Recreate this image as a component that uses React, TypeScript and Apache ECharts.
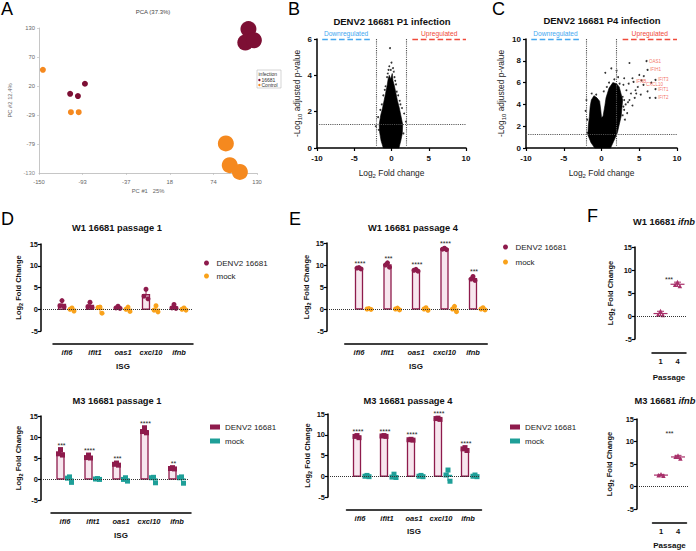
import React, { useEffect, useRef } from "react";
import * as echarts from "echarts";

const FONT = "'Liberation Sans', Arial, Helvetica, sans-serif";
const MAROON = "#8E1B4C";
const PINK = "#F7E6EE";
const MOCK_ORANGE = "#F9A21B";
const MOCK_TEAL = "#1E9F98";
const F_MARK = "#A8306A";
const PCA_RED = "#7D0F34";
const PCA_ORANGE = "#F5891F";
const UP_RED = "#F04A3A";
const DOWN_BLUE = "#45A8F0";

/* ================= DATA ================= */
// A: PCA  [PC1, PC2, passage]
const pcaXTicks = [-150, -94, -38, 18, 74, 130];
const pcaXTickLabels = ["-150", "-93", "-37", "18", "74", "130"];
const pcaYTicks = [-130, -78, -26, 26, 78, 130];
const pcaYTickLabels = ["-130", "-79", "-29", "20", "70", "130"];
const pca16681 = [[-91, 30, 1], [-110, 12, 1], [-100, 8, 1], [119, 128, 4], [115, 104, 4], [126, 108, 4]];
const pcaControl = [[-145, 55, 1], [-109, -21, 1], [-99, -21, 1], [90, -77, 4], [95, -116, 4], [108, -128, 4]];

// B: P1 volcano (outline of the dense core + individual points)
const p1Core = [[-1.1, 0], [-1.4, 0.4], [-1.6, 0.9], [-1.65, 1.3], [-1.45, 1.8], [-1.2, 2.2], [-1.0, 2.6], [-0.8, 3.0], [-0.6, 3.4], [-0.45, 3.8], [-0.3, 4.0], [-0.1, 3.8], [0.1, 4.1], [0.2, 3.7], [0.4, 3.4], [0.6, 3.0], [0.8, 2.6], [1.05, 2.2], [1.3, 1.7], [1.5, 1.3], [1.45, 0.8], [1.25, 0.4], [1.0, 0]];
const p1Points = [[-0.2, 5.5], [0.0, 4.7], [-0.3, 4.5], [0.4, 3.9], [-0.8, 3.4], [0.7, 3.1], [-1.3, 2.4], [1.4, 2.2], [1.95, 1.45], [-1.8, 1.7], [-0.5, 4.1], [0.2, 4.4], [1.1, 2.6], [-1.1, 2.9], [-1.7, 1.0], [1.6, 0.8], [-2.1, 1.2], [0.9, 2.9], [-0.6, 3.9], [1.7, 1.9], [0.3, 4.2], [-0.9, 3.2], [1.2, 2.4], [-1.5, 2.1], [0.6, 3.5], [-0.1, 4.3], [0.5, 3.7], [-0.4, 4.3]];

// C: P4 volcano
const p4Core = [[-0.9, 0], [-1.4, 0.5], [-1.8, 1.2], [-1.75, 2.0], [-1.6, 2.9], [-1.5, 3.8], [-1.35, 4.4], [-1.0, 4.8], [-0.6, 4.6], [-0.25, 4.3], [-0.1, 3.5], [0.0, 2.8], [0.2, 2.9], [0.45, 3.9], [0.6, 4.6], [1.0, 5.5], [1.5, 6.0], [2.0, 5.9], [2.35, 5.6], [2.8, 4.4], [2.6, 2.9], [2.1, 1.4], [1.6, 0.6], [1.2, 0]];
const p4Points = [[3.7, 7.8], [5.0, 6.7], [4.1, 6.4], [5.3, 6.2], [4.8, 5.6], [3.3, 5.3], [3.9, 5.0], [6.1, 5.2], [2.8, 4.7], [3.5, 4.2], [2.6, 4.1], [4.1, 3.9], [3.0, 3.5], [3.0, 6.4], [4.6, 5.0], [3.7, 4.4], [2.8, 3.0], [1.3, 7.3], [2.0, 7.1], [0.5, 6.9], [-2.0, 4.4], [-1.9, 2.6], [-0.7, 4.9], [1.7, 6.3], [2.4, 5.9], [2.9, 3.8], [3.0, 4.4], [4.4, 4.6], [5.2, 4.9], [3.4, 3.2], [2.2, 6.5], [1.0, 6.0], [2.9, 5.8], [5.6, 6.6], [6.6, 6.0], [4.5, 5.3], [3.6, 5.9], [3.2, 4.0], [3.1, 2.6], [-1.3, 5.0], [-2.1, 3.4], [0.3, 5.2], [6.4, 4.6], [-1.9, 1.4], [0.7, 5.6]];
const p4Genes = ["OAS1", "IFIH1", "IFIT3", "IFNB", "CXCL10", "IFIT1", "IFIT2"];
const p4GeneFC = [5.96, 6.1, 7.15, 4.24, 5.56, 7.15, 7.15];
const p4GeneP = [7.98, 7.16, 6.24, 6.06, 5.8, 5.41, 4.59];
const fcCut = 2;
const pCut = 1.3;

// D, E: ISG qPCR (3 replicates each)
const isg = ["ifi6", "ifit1", "oas1", "cxcl10", "ifnb"];
const w1p1Denv = [[2.0, 0.8, 0.6], [1.6, 0.6, 0.4], [0.7, 0.3, 0.2], [4.6, 3.0, 2.4], [1.1, 0.3, 0.2]];
const w1p1Mock = [[0.3, 0.0, -0.4], [0.5, 0.4, -0.9], [0.5, 0.0, -0.5], [0.8, -0.2, -0.6], [0.3, 0.0, -0.2]];
const w1p1Sig = ["", "", "", "", ""];
const m3p1Denv = [[7.0, 6.0, 5.7], [5.7, 5.1, 5.0], [3.8, 3.5, 3.3], [12.2, 11.3, 11.0], [2.7, 2.5, 2.4]];
const m3p1Mock = [[0.5, 0.2, -0.8], [0.1, 0.0, -0.1], [0.3, -0.1, -0.5], [0.4, 0.3, -0.9], [0.5, 0.3, -1.0]];
const m3p1Sig = ["***", "****", "***", "****", "**"];
const w1p4Denv = [[9.4, 9.3, 9.1], [10.5, 10.0, 9.5], [9.0, 8.8, 8.6], [13.8, 13.6, 13.5], [7.4, 6.8, 6.5]];
const w1p4Mock = [[0.1, 0.0, -0.1], [0.2, 0.0, -0.2], [0.3, 0.0, -0.3], [0.6, 0.0, -0.6], [0.3, 0.0, -0.2]];
const w1p4Sig = ["****", "***", "****", "****", "***"];
const m3p4Denv = [[9.8, 9.6, 9.3], [9.8, 9.7, 9.6], [8.9, 8.8, 8.7], [14.0, 13.9, 13.7], [6.9, 6.6, 6.2]];
const m3p4Mock = [[0.2, 0.0, -0.1], [0.5, -0.2, -0.3], [0.2, 0.0, -0.1], [1.5, 0.3, -1.2], [0.3, 0.0, -0.1]];
const m3p4Sig = ["****", "****", "****", "****", "****"];

// F: ifnb by passage (same replicates as ifnb in D / E)
const passages = ["1", "4"];
const w1Ifnb = [w1p1Denv[4], w1p4Denv[4]];
const m3Ifnb = [m3p1Denv[4], m3p4Denv[4]];
const w1IfnbSig = { text: "***", y: 8.0 };
const m3IfnbSig = { text: "***", y: 11.7 };

/* ================= HELPERS ================= */
const mean = (a: number[]) => a.reduce((s, v) => s + v, 0) / a.length;
const sd = (a: number[]) => {
  const m = mean(a);
  return Math.sqrt(a.reduce((s, v) => s + (v - m) * (v - m), 0) / (a.length - 1));
};
const JIT = [0, -2, 2];

function buildOption() {
  const grid: any[] = [];
  const xAxis: any[] = [];
  const yAxis: any[] = [];
  const series: any[] = [];
  const legend: any[] = [];
  const graphic: any[] = [];
  const add = (g: any, x: any, y: any) => {
    const i = grid.length;
    grid.push(g);
    xAxis.push({ ...x, gridIndex: i });
    yAxis.push({ ...y, gridIndex: i });
    return i;
  };

  /* ---------- A: PCA ---------- */
  const pcaTxt = { fontSize: 5.8, color: "#666", fontFamily: FONT };
  const aLine = { onZero: false, lineStyle: { color: "#b8b8b8", width: 0.8 } };
  const a = add(
    { left: 39, top: 28, width: 218, height: 145 },
    {
      type: "value", min: -150, max: 130, axisLine: aLine,
      axisTick: { show: true, length: 2, customValues: pcaXTicks, lineStyle: { color: "#b8b8b8", width: 0.6 } },
      axisLabel: { ...pcaTxt, margin: 6, showMinLabel: true, showMaxLabel: true, customValues: pcaXTicks, formatter: (v: number) => pcaXTickLabels[pcaXTicks.indexOf(v)] ?? "" },
      splitLine: { show: false }, name: "PC #1   25%", nameLocation: "middle", nameGap: 15, nameTextStyle: pcaTxt,
    },
    {
      type: "value", min: -130, max: 130, axisLine: aLine,
      axisTick: { show: true, length: 2, customValues: pcaYTicks, lineStyle: { color: "#b8b8b8", width: 0.6 } },
      axisLabel: {
        ...pcaTxt, margin: 4, showMinLabel: false, showMaxLabel: true, customValues: pcaYTicks,
        formatter: (v: number) => {
          const k = pcaYTicks.findIndex((t) => Math.abs(t - v) < 0.01);
          return k > 0 ? pcaYTickLabels[k] : "";
        },
      },
      splitLine: { show: false }, name: "PC #2 12.4%", nameLocation: "middle", nameGap: 26, nameTextStyle: pcaTxt,
    }
  );
  // the lowest y tick label, placed at its own tick through the axis scale
  series.push({
    type: "scatter", xAxisIndex: a, yAxisIndex: a, silent: true, symbolSize: 0, z: 1,
    data: [{ value: [pcaXTicks[0], pcaYTicks[0]] }],
    label: { show: true, position: "left", distance: 4, formatter: () => pcaYTickLabels[0], ...pcaTxt },
  });
  const pcaSize = (v: number[]) => (v[2] === 4 ? 16 : 6);
  series.push({ type: "scatter", xAxisIndex: a, yAxisIndex: a, data: pca16681, symbolSize: pcaSize, itemStyle: { color: PCA_RED, opacity: 1 } });
  series.push({ type: "scatter", xAxisIndex: a, yAxisIndex: a, data: pcaControl, symbolSize: pcaSize, itemStyle: { color: PCA_ORANGE, opacity: 1 } });

  /* ---------- B, C: volcano ---------- */
  const volLblX = { fontSize: 8, fontWeight: "bold", color: "#111", fontFamily: FONT, margin: 6, showMinLabel: true };
  const volLblY = { fontSize: 8, fontWeight: "bold", color: "#111", fontFamily: FONT, margin: 5, showMinLabel: true };
  const volRich = {
    a: { fontSize: 8.4, fontFamily: FONT, color: "#222", lineHeight: 12, verticalAlign: "middle" },
    s: { fontSize: 6, fontFamily: FONT, color: "#222", lineHeight: 12, verticalAlign: "bottom" },
  };
  const volAxisLine = { onZero: false, lineStyle: { color: "#000", width: 1.5 } };
  const volTick = { length: 3, lineStyle: { color: "#000", width: 1.2 } };
  const addVolcano = (g: any, ymax: number, yNameGap: number, core: number[][], pts: number[][], withGenes: boolean) => {
    const gi = add(
      g,
      {
        type: "value", min: -10, max: 10, interval: 5, axisLine: volAxisLine, axisTick: volTick, axisLabel: volLblX,
        splitLine: { show: false }, name: "{a|Log}{s|2}{a| Fold change}", nameLocation: "middle", nameGap: 19,
        nameTextStyle: { rich: volRich },
      },
      {
        type: "value", min: 0, max: ymax, interval: 2, axisLine: volAxisLine, axisTick: volTick, axisLabel: volLblY,
        splitLine: { show: false }, name: "{a|-Log}{s|10}{a| adjusted p-value}", nameLocation: "middle",
        nameGap: yNameGap, nameRotate: 90, nameTextStyle: { rich: volRich },
      }
    );
    series.push({
      type: "custom", xAxisIndex: gi, yAxisIndex: gi, data: core, encode: { x: 0, y: 1 }, silent: true, z: 2,
      renderItem: (params: any, api: any) => {
        if (params.dataIndex !== 0) return null;
        const ptsPx = core.map((p) => api.coord(p));
        return { type: "polygon", shape: { points: ptsPx }, style: { fill: "#000", stroke: "#000", lineWidth: 0.6 } };
      },
    });
    const blue = { type: "dashed", color: DOWN_BLUE, width: 1.4 };
    const red = { type: "dashed", color: UP_RED, width: 1.4 };
    series.push({
      type: "scatter", xAxisIndex: gi, yAxisIndex: gi, data: pts, symbolSize: 1.9, itemStyle: { color: "#000" }, z: 3, silent: true,
      markLine: {
        silent: true, symbol: ["none", "none"], label: { show: false }, z: 5,
        lineStyle: { type: "dotted", color: "#555", width: 1.1 },
        data: [
          { xAxis: -fcCut }, { xAxis: fcCut }, { yAxis: pCut },
          [
            { coord: [-9.3, ymax], lineStyle: blue,
              label: { show: true, formatter: "Downregulated", position: "insideMiddleTop", color: DOWN_BLUE, fontSize: 6.6, fontFamily: FONT, distance: 2 } },
            { coord: [-2.9, ymax], lineStyle: blue },
          ],
          [
            { coord: [2.8, ymax], lineStyle: red,
              label: { show: true, formatter: "Upregulated", position: "insideMiddleTop", color: UP_RED, fontSize: 6.7, fontFamily: FONT, distance: 2 } },
            { coord: [10, ymax], lineStyle: red },
          ],
        ],
      },
    });
    if (withGenes) {
      series.push({
        type: "scatter", xAxisIndex: gi, yAxisIndex: gi, z: 4, silent: true, symbolSize: 2,
        itemStyle: { color: "#000" },
        data: p4Genes.map((n, i) => ({ name: n, value: [p4GeneFC[i], p4GeneP[i]] })),
        label: { show: true, position: "right", distance: 1.5, formatter: "{b}", color: UP_RED, fontSize: 4.5, fontFamily: FONT },
      });
    }
  };
  addVolcano({ left: 317, top: 39, width: 149, height: 109 }, 6, 14, p1Core, p1Points, false);
  addVolcano({ left: 526, top: 39, width: 151, height: 109 }, 10, 19, p4Core, p4Points, true);

  /* ---------- shared styles for D, E, F ---------- */
  const boldTick = { fontSize: 7.5, fontWeight: "bold", color: "#111", fontFamily: FONT, margin: 3 };
  const foldRich = {
    a: { fontSize: 7.5, fontWeight: "bold", fontFamily: FONT, color: "#111", lineHeight: 11, verticalAlign: "middle" },
    s: { fontSize: 5.5, fontWeight: "bold", fontFamily: FONT, color: "#111", lineHeight: 11, verticalAlign: "bottom" },
  };
  const blkLine = { onZero: false, lineStyle: { color: "#000", width: 1.5 } };
  const blkTick = { length: 3, lineStyle: { color: "#000", width: 1.2 } };
  const foldAxis = (nameGap: number) => ({
    type: "value", min: -5, max: 15, interval: 5, axisLine: blkLine, axisTick: blkTick, axisLabel: { ...boldTick, showMinLabel: true },
    splitLine: { show: false }, name: "{a|Log}{s|2}{a| Fold Change}", nameLocation: "middle", nameRotate: 90,
    nameGap, nameTextStyle: { rich: foldRich },
  });
  const catAxis = (cats: string[], name: string, nameGap: number, italic: boolean) => ({
    type: "category", data: cats, axisLine: blkLine,
    axisTick: { alignWithLabel: true, length: 3, lineStyle: { color: "#000", width: 1.2 } },
    axisLabel: { ...boldTick, interval: 0, fontStyle: italic ? "italic" : "normal", margin: 4 },
    name, nameLocation: "middle", nameGap,
    nameTextStyle: { fontSize: 8, fontWeight: "bold", color: "#111", fontFamily: FONT },
  });
  const zeroLine = {
    silent: true, symbol: ["none", "none"], label: { show: false },
    lineStyle: { type: "dotted", color: "#333", width: 1 }, data: [{ yAxis: 0 }],
  };

  /* ---------- D, E: bar panels ---------- */
  const BW = 7;
  const barPanel = (L: any, P: any) => {
    const n = isg.length;
    const gi = add(
      { left: L.axisX, top: L.top, width: L.right - L.axisX, height: L.bottom - L.top },
      { type: "value", show: false, min: -(L.c0 - L.axisX) / L.sp, max: (n - 1) + (L.right - (L.c0 + (n - 1) * L.sp)) / L.sp },
      foldAxis(L.yNameGap)
    );
    add(
      { left: L.c0 - L.sp / 2, top: L.catY - 1, width: L.sp * n, height: 1 },
      catAxis(isg, "ISG", L.nameGapX, true),
      { type: "value", show: false }
    );
    const summary = P.inf.map((pts: number[], i: number) => [i, mean(pts), sd(pts), mean(P.mock[i]), sd(P.mock[i]), Math.max(...pts)]);
    series.push({
      type: "custom", xAxisIndex: gi, yAxisIndex: gi, data: summary, encode: { x: 0, y: 1 }, z: 1, silent: true,
      renderItem: (params: any, api: any) => {
        const i = api.value(0);
        const p0 = api.coord([i, 0]);
        const out: any[] = [];
        const bar = (off: number, m: number, s: number, stroke: string, fill: string) => {
          const cx = p0[0] + off;
          const ym = api.coord([i, m])[1];
          const yh = api.coord([i, m + s])[1];
          const yl = api.coord([i, m - s])[1];
          out.push({ type: "line", shape: { x1: cx, y1: yl, x2: cx, y2: yh }, style: { stroke, lineWidth: 1 } });
          out.push({ type: "line", shape: { x1: cx - 2, y1: yh, x2: cx + 2, y2: yh }, style: { stroke, lineWidth: 1 } });
          out.push({
            type: "rect",
            shape: { x: cx - BW / 2, y: Math.min(p0[1], ym), width: BW, height: Math.max(Math.abs(p0[1] - ym), 0.01) },
            style: { fill, stroke, lineWidth: 1.3 },
          });
        };
        bar(L.mockOff, api.value(3), api.value(4), P.mockColor, "rgba(255,255,255,0)");
        bar(L.infOff, api.value(1), api.value(2), MAROON, PINK);
        const sig = P.sig[params.dataIndex];
        if (sig) {
          const top = api.coord([i, api.value(5)]);
          out.push({
            type: "text", x: p0[0] + L.infOff + 1, y: top[1] - 1,
            style: { text: sig, fontSize: 7, fontFamily: FONT, fill: "#222", align: "center", verticalAlign: "bottom" },
          });
        }
        return { type: "group", children: out };
      },
      markLine: zeroLine,
    });
    const pts = (arr: number[][], off: number) =>
      arr.flatMap((vals, i) => vals.map((v, k) => ({ value: [i, v], symbolOffset: [off + JIT[k], 0] })));
    series.push({
      type: "scatter", name: "DENV2 16681#" + P.key, xAxisIndex: gi, yAxisIndex: gi, z: 3, silent: true,
      symbol: P.symbol, symbolSize: 5, itemStyle: { color: MAROON, opacity: 1 }, data: pts(P.inf, L.infOff),
    });
    series.push({
      type: "scatter", name: "mock#" + P.key, xAxisIndex: gi, yAxisIndex: gi, z: 3, silent: true,
      symbol: P.symbol, symbolSize: 5, itemStyle: { color: P.mockColor, opacity: 1 }, data: pts(P.mock, L.mockOff),
    });
    legend.push({
      orient: "vertical", left: L.legLeft, top: L.legTop, itemWidth: 10, itemHeight: 5, itemGap: L.legGap,
      selectedMode: false, data: ["DENV2 16681#" + P.key, "mock#" + P.key],
      formatter: (nm: string) => nm.split("#")[0],
      textStyle: { fontSize: 8, fontFamily: FONT, color: "#222" },
    });
  };

  barPanel(
    { axisX: 41, top: 244, bottom: 331, c0: 67, sp: 28, right: 193, catY: 344, nameGapX: 18, yNameGap: 17, infOff: -5, mockOff: 5, legLeft: 199, legTop: 254, legGap: 5 },
    { inf: w1p1Denv, mock: w1p1Mock, sig: w1p1Sig, symbol: "circle", mockColor: MOCK_ORANGE, key: "d1" }
  );
  barPanel(
    { axisX: 41, top: 416, bottom: 500, c0: 65, sp: 28, right: 188, catY: 513, nameGapX: 18, yNameGap: 17, infOff: -4.5, mockOff: 4.5, legLeft: 205, legTop: 418, legGap: 6 },
    { inf: m3p1Denv, mock: m3p1Mock, sig: m3p1Sig, symbol: "rect", mockColor: MOCK_TEAL, key: "d2" }
  );
  barPanel(
    { axisX: 327, top: 243, bottom: 331, c0: 359, sp: 28.5, right: 490, catY: 344, nameGapX: 18, yNameGap: 10, infOff: 0, mockOff: 10, legLeft: 498, legTop: 238, legGap: 7 },
    { inf: w1p4Denv, mock: w1p4Mock, sig: w1p4Sig, symbol: "circle", mockColor: MOCK_ORANGE, key: "e1" }
  );
  barPanel(
    { axisX: 328, top: 414, bottom: 497, c0: 360, sp: 27, right: 480, catY: 510, nameGapX: 17, yNameGap: 10, infOff: -3, mockOff: 7, legLeft: 505, legTop: 418, legGap: 6 },
    { inf: m3p4Denv, mock: m3p4Mock, sig: m3p4Sig, symbol: "rect", mockColor: MOCK_TEAL, key: "e2" }
  );

  /* ---------- F: ifnb by passage ---------- */
  const fPanel = (L: any, vals: number[][], sig: any) => {
    const n = passages.length;
    const gi = add(
      { left: L.axisX, top: L.top, width: L.right - L.axisX, height: L.bottom - L.top },
      { type: "value", show: false, min: -(L.c0 - L.axisX) / L.sp, max: (n - 1) + (L.right - (L.c0 + (n - 1) * L.sp)) / L.sp },
      foldAxis(L.yNameGap)
    );
    add(
      { left: L.c0 - L.sp / 2, top: L.catY - 1, width: L.sp * n, height: 1 },
      catAxis(passages, "Passage", L.nameGapX, false),
      { type: "value", show: false }
    );
    const summary = vals.map((v, j) => [j, mean(v), sd(v)]);
    series.push({
      type: "custom", xAxisIndex: gi, yAxisIndex: gi, data: summary, encode: { x: 0, y: 1 }, z: 4, silent: true,
      renderItem: (params: any, api: any) => {
        const j = api.value(0);
        const m = api.coord([j, api.value(1)]);
        const yh = api.coord([j, api.value(1) + api.value(2)])[1];
        const yl = api.coord([j, api.value(1) - api.value(2)])[1];
        const out: any[] = [
          { type: "line", shape: { x1: m[0] - 7, y1: m[1], x2: m[0] + 7, y2: m[1] }, style: { stroke: F_MARK, lineWidth: 1.2 } },
          { type: "line", shape: { x1: m[0], y1: yl, x2: m[0], y2: yh }, style: { stroke: F_MARK, lineWidth: 1 } },
          { type: "line", shape: { x1: m[0] - 3.5, y1: yh, x2: m[0] + 3.5, y2: yh }, style: { stroke: F_MARK, lineWidth: 1 } },
          { type: "line", shape: { x1: m[0] - 3.5, y1: yl, x2: m[0] + 3.5, y2: yl }, style: { stroke: F_MARK, lineWidth: 1 } },
        ];
        if (params.dataIndex === 0) {
          const s = api.coord([(n - 1) / 2, sig.y]);
          out.push({ type: "text", x: s[0], y: s[1], style: { text: sig.text, fontSize: 7, fontFamily: FONT, fill: "#222", align: "center", verticalAlign: "middle" } });
        }
        return { type: "group", children: out };
      },
      markLine: zeroLine,
    });
    series.push({
      type: "scatter", xAxisIndex: gi, yAxisIndex: gi, z: 3, silent: true, symbol: "triangle", symbolSize: 4.5,
      itemStyle: { color: F_MARK, opacity: 1 },
      data: vals.flatMap((v, j) => v.map((y, k) => ({ value: [j, y], symbolOffset: [JIT[k] * 1.2, 0] }))),
    });
  };
  fPanel({ axisX: 635, top: 247, bottom: 339, c0: 660.5, sp: 17, right: 687, catY: 353, nameGapX: 20, yNameGap: 19 }, w1Ifnb, w1IfnbSig);
  fPanel({ axisX: 637, top: 419, bottom: 509, c0: 661, sp: 17, right: 688, catY: 523, nameGapX: 18, yNameGap: 22 }, m3Ifnb, m3IfnbSig);

  /* ---------- texts ---------- */
  const letter = (t: string, x: number, y: number) => ({
    type: "text", x, y, style: { text: t, fontSize: 18, fontFamily: FONT, fill: "#000", align: "left", verticalAlign: "top" },
  });
  const title = (t: string, x: number, y: number, size = 9.3) => ({
    type: "text", x, y, style: { text: t, fontSize: size, fontWeight: "bold", fontFamily: FONT, fill: "#111", align: "center", verticalAlign: "middle" },
  });
  const richTitle = (t1: string, t2: string, x: number, y: number) => ({
    type: "text", x, y,
    style: {
      text: `{b|${t1}}{i|${t2}}`, align: "center", verticalAlign: "middle",
      rich: {
        b: { fontSize: 9.3, fontWeight: "bold", fontFamily: FONT, fill: "#111" },
        i: { fontSize: 9.3, fontWeight: "bold", fontStyle: "italic", fontFamily: FONT, fill: "#111" },
      },
    },
  });
  graphic.push(
    letter("A", 1, 0), letter("B", 288, 0), letter("C", 492, 0),
    letter("D", 1, 210), letter("E", 289, 210), letter("F", 587, 207),
    { type: "text", x: 153, y: 12, style: { text: "PCA (37.3%)", fontSize: 6, fontFamily: FONT, fill: "#444", align: "center", verticalAlign: "middle" } },
    title("DENV2 16681 P1 infection", 392, 21, 9.5),
    title("DENV2 16681 P4 infection", 602, 20, 9.5),
    title("W1 16681 passage 1", 117, 228),
    title("M3 16681 passage 1", 117, 401),
    title("W1 16681 passage 4", 413, 228),
    title("M3 16681 passage 4", 408, 401),
    richTitle("W1 16681 ", "ifnb", 664, 222),
    richTitle("M3 16681 ", "ifnb", 665, 401),
    {
      type: "group", x: 257, y: 70,
      children: [
        { type: "rect", shape: { x: 0, y: 0, width: 24, height: 18 }, style: { fill: "#fff", stroke: "#bbb", lineWidth: 0.6 } },
        { type: "text", x: 1.5, y: 3.5, style: { text: "infection", fontSize: 5, fontFamily: FONT, fill: "#333", verticalAlign: "middle" } },
        { type: "circle", shape: { cx: 2.4, cy: 10, r: 1.2 }, style: { fill: PCA_RED } },
        { type: "text", x: 4.5, y: 10, style: { text: "16681", fontSize: 5, fontFamily: FONT, fill: "#333", verticalAlign: "middle" } },
        { type: "circle", shape: { cx: 2.4, cy: 15, r: 1.2 }, style: { fill: PCA_ORANGE } },
        { type: "text", x: 4.5, y: 15, style: { text: "Control", fontSize: 5, fontFamily: FONT, fill: "#333", verticalAlign: "middle" } },
      ],
    }
  );

  return {
    animation: false,
    backgroundColor: "#fff",
    textStyle: { fontFamily: FONT },
    grid, xAxis, yAxis, series, legend, graphic,
  };
}

export default function App() {
  const ref = useRef<HTMLDivElement>(null);
  useEffect(() => {
    if (!ref.current) return;
    const chart = echarts.init(ref.current, null, { renderer: "svg" });
    chart.setOption(buildOption() as any);
    return () => chart.dispose();
  }, []);
  return (
    <div
      ref={ref}
      style={{ position: "fixed", left: 0, top: 0, width: 696, height: 551, background: "#fff" }}
    />
  );
}
